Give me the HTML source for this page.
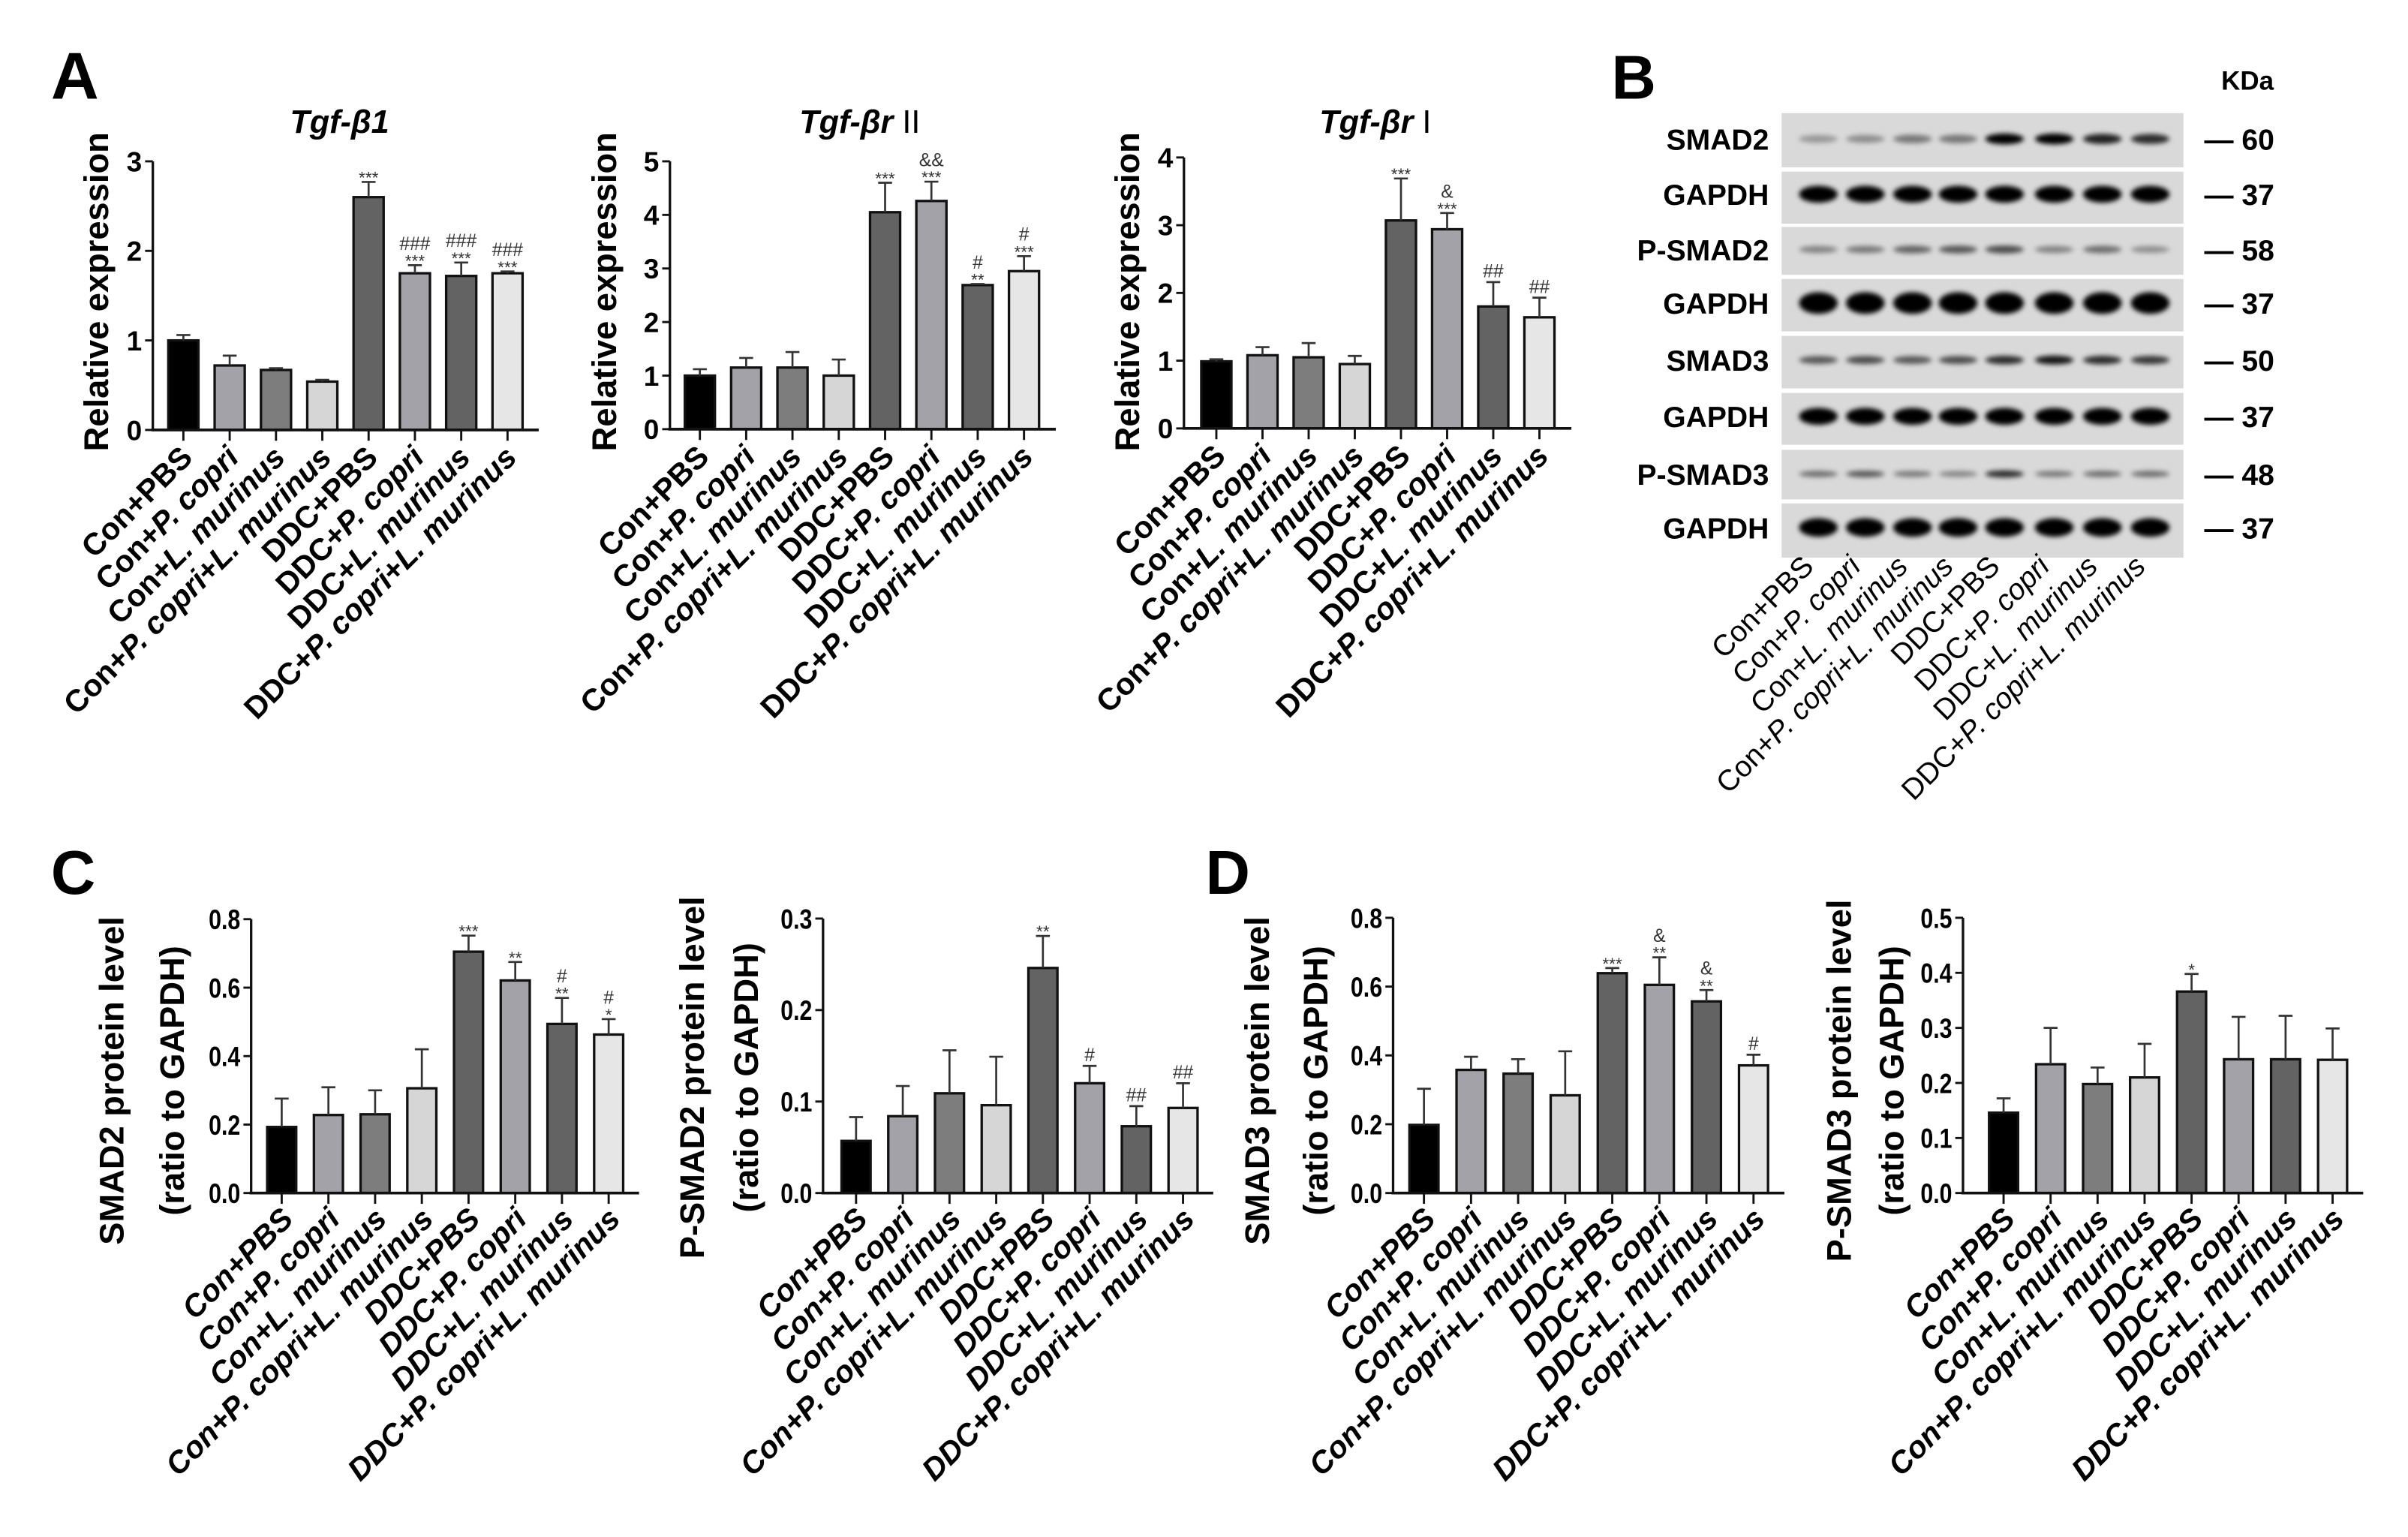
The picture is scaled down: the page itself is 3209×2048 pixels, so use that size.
<!DOCTYPE html>
<html><head><meta charset="utf-8">
<style>
html,body{margin:0;padding:0;background:#fff;}
svg{display:block;font-family:"Liberation Sans",Arial,sans-serif;}
</style></head>
<body>
<svg id="fig" xmlns="http://www.w3.org/2000/svg" width="3209" height="2048" viewBox="0 0 1560 995.6">
<defs><filter id="blur" x="-50%" y="-100%" width="200%" height="300%"><feGaussianBlur stdDeviation="1.6"/></filter></defs>
<text x="33" y="64" font-size="43" font-weight="bold">A</text>
<text x="1044" y="64" font-size="40" font-weight="bold">B</text>
<text x="33" y="579" font-size="40" font-weight="bold">C</text>
<text x="781" y="579" font-size="40" font-weight="bold">D</text>
</svg>
<script>
const NS='http://www.w3.org/2000/svg';
const svg=document.getElementById('fig');
const categories=["Con+PBS","Con+P. copri","Con+L. murinus","Con+P. copri+L. murinus","DDC+PBS","DDC+P. copri","DDC+L. murinus","DDC+P. copri+L. murinus"];
// Panel A
const tgfb1Values=[1.0,0.72,0.67,0.54,2.6,1.75,1.72,1.75];
const tgfb1Errors=[0.06,0.11,0.02,0.02,0.17,0.09,0.15,0.02];
const tgfb1Ticks=[0,1,2,3];
const tgfb1Marks=[[],[],[],[],["***"],["***","###"],["***","###"],["***","###"]];
const tgfbr2Values=[1.0,1.15,1.15,1.0,4.05,4.26,2.69,2.95];
const tgfbr2Errors=[0.12,0.18,0.29,0.3,0.55,0.36,0.02,0.28];
const tgfbr2Ticks=[0,1,2,3,4,5];
const tgfbr2Marks=[[],[],[],[],["***"],["***","&&"],["**","#"],["***","#"]];
const tgfbr1Values=[0.99,1.08,1.05,0.95,3.07,2.94,1.8,1.64];
const tgfbr1Errors=[0.03,0.12,0.21,0.12,0.62,0.24,0.36,0.29];
const tgfbr1Ticks=[0,1,2,3,4];
const tgfbr1Marks=[[],[],[],[],["***"],["***","&"],["##"],["##"]];
// Panel C
const smad2Values=[0.193,0.228,0.23,0.306,0.705,0.621,0.494,0.463];
const smad2Errors=[0.083,0.081,0.07,0.114,0.047,0.054,0.076,0.045];
const smad2Ticks=[0,0.2,0.4,0.6,0.8];
const smad2Marks=[[],[],[],[],["***"],["**"],["**","#"],["*","#"]];
const psmad2Values=[0.057,0.084,0.109,0.096,0.246,0.12,0.073,0.093];
const psmad2Errors=[0.026,0.033,0.047,0.053,0.035,0.019,0.022,0.027];
const psmad2Ticks=[0,0.1,0.2,0.3];
const psmad2Marks=[[],[],[],[],["**"],["#"],["##"],["##"]];
// Panel D
const smad3Values=[0.198,0.358,0.347,0.284,0.639,0.605,0.557,0.371];
const smad3Errors=[0.105,0.038,0.042,0.128,0.015,0.08,0.033,0.031];
const smad3Ticks=[0,0.2,0.4,0.6,0.8];
const smad3Marks=[[],[],[],[],["***"],["**","&"],["**","&"],["#"]];
const psmad3Values=[0.146,0.234,0.198,0.21,0.366,0.243,0.243,0.242];
const psmad3Errors=[0.026,0.066,0.03,0.061,0.032,0.077,0.079,0.057];
const psmad3Ticks=[0,0.1,0.2,0.3,0.4,0.5];
const psmad3Marks=[[],[],[],[],["*"],[],[],[]];
// Blot
const blotRows=["SMAD2","GAPDH","P-SMAD2","GAPDH","SMAD3","GAPDH","P-SMAD3","GAPDH"];
const blotKDa=["60","37","58","37","50","37","48","37"];
const blotIntensity=[[0.3,0.35,0.45,0.45,1,1,0.85,0.8],[1,1,1,1,1,1,1,1],[0.4,0.45,0.55,0.6,0.65,0.4,0.5,0.35],[1,1,1,1,1,1,1,1],[0.6,0.65,0.6,0.65,0.8,0.9,0.8,0.75],[1,1,1,1,1,1,1,1],[0.5,0.6,0.45,0.4,0.8,0.45,0.5,0.5],[1,1,1,1,1,1,1,1]];

const fills=['#000000','#a2a2a8','#7d7d7d','#d6d6d6','#636363','#a2a2a8','#636363','#e6e6e6'];

function el(tag,attrs,parent){const e=document.createElementNS(NS,tag);for(const k in attrs)e.setAttribute(k,attrs[k]);(parent||svg).appendChild(e);return e;}

function addLabel(g,txt,x,y,allItalic,bold,size){
  const t=el('text',{x:0,y:0,'font-size':size,'font-weight':bold?'bold':'normal','text-anchor':'end',transform:`translate(${x},${y}) rotate(-45)`},g);
  
  
  const parts=txt.split(/(P\. copri|L\. murinus)/);
  parts.forEach(p=>{if(!p)return;const s=el('tspan',{},t);s.textContent=p;
    if(allItalic||/copri|murinus/.test(p))s.setAttribute('font-style','italic');});
}

function chart(c){
  const g=el('g',{});
  
  
  const ymax=c.ticks[c.ticks.length-1];
  const yS=v=>c.y0-(v/ymax)*(c.y0-c.yTop);
  const xS=i=>c.bx0+i*c.step;
  const ya=el('line',{x1:c.ax,x2:c.ax,y1:c.yTop,y2:c.y0,stroke:'#111','stroke-width':1.6},g);
  
  
  c.ticks.forEach(v=>{
    el('line',{x1:c.ax-5,x2:c.ax,y1:yS(v),y2:yS(v),stroke:'#111','stroke-width':1.4},g);
    const t=el('text',{x:c.ax-7,y:yS(v)+6.5,'font-size':18,'font-weight':'bold','text-anchor':'end'},g);
    
    
    t.textContent=c.fmt?v.toFixed(1):String(v);
    if(c.fmt)t.setAttribute('transform',`translate(${c.ax-7},0) scale(0.82,1) translate(${-(c.ax-7)},0)`);
  });
  c.values.forEach((v,i)=>{
    const cx=xS(i);
    const b=el('rect',{x:cx-c.bw/2,y:yS(v),width:c.bw,height:c.y0-yS(v),fill:fills[i],stroke:'#111','stroke-width':1.6},g);
    
    
    const et=yS(v+c.errors[i]);
    const eb=el('path',{d:`M${cx},${yS(v)}V${et}M${cx-4.5},${et}H${cx+4.5}`,stroke:'#333','stroke-width':1.3,fill:'none'},g);
    
    
    let yy=et-3;
    c.marks[i].forEach(m=>{
      const star=m.indexOf('*')>=0;
      const a=el('text',{x:cx,y:star?yy+4:yy,'font-size':star?11:12,'text-anchor':'middle',fill:'#333'},g);
      
      
      a.textContent=m;
      yy-=star?7:10;
    });
    el('line',{x1:cx,x2:cx,y1:c.y0,y2:c.y0+7,stroke:'#111','stroke-width':1.4},g);
    addLabel(g,categories[i],cx+c.lx,c.y0+c.ly,c.italic,true,20);
  });
  const xa=el('line',{x1:c.ax-1,x2:c.axEnd,y1:c.y0,y2:c.y0,stroke:'#111','stroke-width':1.8},g);
  
  
  c.ytitles.forEach((tt,k)=>{
    const t=el('text',{x:0,y:0,'font-size':22,'font-weight':'bold','text-anchor':'middle',transform:`translate(${tt[1]},${c.ycenter}) rotate(-90)`},g);
    
    
    t.textContent=tt[0];
  });
  if(c.title){
    const t=el('text',{x:c.titleX,y:86,'font-size':21,'font-weight':'bold','font-style':'italic','text-anchor':'middle'},g);
    
    
    const s1=el('tspan',{},t);s1.textContent=c.title[0];
    if(c.title[1]){const s2=el('tspan',{'font-style':'normal','font-weight':'normal'},t);s2.textContent=c.title[1];}
  }
}

chart({name:'tgfb1-chart',values:tgfb1Values,errors:tgfb1Errors,ticks:tgfb1Ticks,marks:tgfb1Marks,ax:99,axEnd:349,y0:278.5,yTop:104.5,bx0:118.8,step:30,bw:19.5,lx:7,ly:19,italic:false,ytitles:[["Relative expression",70]],ycenter:189,title:["Tgf-β1"],titleX:220});
chart({name:'tgfbr2-chart',values:tgfbr2Values,errors:tgfbr2Errors,ticks:tgfbr2Ticks,marks:tgfbr2Marks,ax:434,axEnd:684,y0:278,yTop:104.5,bx0:453.4,step:30,bw:19.5,lx:7,ly:19,italic:false,ytitles:[["Relative expression",399]],ycenter:189,title:["Tgf-βr ","II"],titleX:557});
chart({name:'tgfbr1-chart',values:tgfbr1Values,errors:tgfbr1Errors,ticks:tgfbr1Ticks,marks:tgfbr1Marks,ax:767,axEnd:1018,y0:277.5,yTop:102,bx0:788,step:29.9,bw:19.5,lx:7,ly:19,italic:false,ytitles:[["Relative expression",738]],ycenter:189,title:["Tgf-βr ","I"],titleX:891});
chart({name:'smad2-chart',values:smad2Values,errors:smad2Errors,ticks:smad2Ticks,marks:smad2Marks,fmt:true,ax:162.7,axEnd:414,y0:772.8,yTop:595.4,bx0:182.5,step:30.26,bw:18.8,lx:8.5,ly:18,italic:true,ytitles:[["SMAD2 protein level",80],["(ratio to GAPDH)",119]],ycenter:700});
chart({name:'psmad2-chart',values:psmad2Values,errors:psmad2Errors,ticks:psmad2Ticks,marks:psmad2Marks,fmt:true,ax:533.2,axEnd:786,y0:772.8,yTop:595,bx0:554.6,step:30.26,bw:18.8,lx:8.5,ly:18,italic:true,ytitles:[["P-SMAD2 protein level",456],["(ratio to GAPDH)",491]],ycenter:698});
chart({name:'smad3-chart',values:smad3Values,errors:smad3Errors,ticks:smad3Ticks,marks:smad3Marks,fmt:true,ax:902.5,axEnd:1156,y0:772.8,yTop:594.5,bx0:922.5,step:30.5,bw:18.8,lx:8.5,ly:18,italic:true,ytitles:[["SMAD3 protein level",822],["(ratio to GAPDH)",860]],ycenter:700});
chart({name:'psmad3-chart',values:psmad3Values,errors:psmad3Errors,ticks:psmad3Ticks,marks:psmad3Marks,fmt:true,ax:1271.7,axEnd:1531,y0:772.8,yTop:594.5,bx0:1298,step:30.45,bw:18.8,lx:8.5,ly:18,italic:true,ytitles:[["P-SMAD3 protein level",1199],["(ratio to GAPDH)",1233]],ycenter:700});

// Western blot
(function(){
  const g=el('g',{});
  
  
  const rows=[[73.3,108.4],[111.2,144.9],[147,178],[180.7,214.7],[217.6,251.6],[254.5,288.1],[291.4,323.5],[326.1,361.2]];
  const bandY=[90,125.8,161.6,196.3,233.2,269.7,307,341.7];
  const bandH=[7,11,6,14,6,11,5,12];
  const lanes=[1178,1208.4,1239,1268.5,1298.6,1330.8,1362,1393];
  const kda=el('text',{x:1456,y:58,'font-size':17,'font-weight':'bold','text-anchor':'middle'},g);
  
  
  kda.textContent='KDa';
  blotRows.forEach((r,i)=>{
    const p=el('rect',{x:1154.2,y:rows[i][0],width:260.3,height:rows[i][1]-rows[i][0],fill:'#d9d9d9'},g);
    
    
    blotIntensity[i].forEach((v,j)=>{
      const b=el('ellipse',{cx:lanes[j],cy:bandY[i],rx:12.5,ry:bandH[i]/2*(0.6+0.4*v),fill:'#000','fill-opacity':v,filter:'url(#blur)'},g);
      
      
    });
    const t=el('text',{x:1146,y:bandY[i]+7,'font-size':19,'font-weight':'bold','text-anchor':'end'},g);
    
    
    t.textContent=r;
    const k=el('text',{x:1428,y:bandY[i]+7,'font-size':19,'font-weight':'bold'},g);
    
    
    k.textContent='— '+blotKDa[i];
  });
  lanes.forEach((x,i)=>addLabel(g,categories[i],x-2,368,false,false,19));
})();
</script>
</body></html>
